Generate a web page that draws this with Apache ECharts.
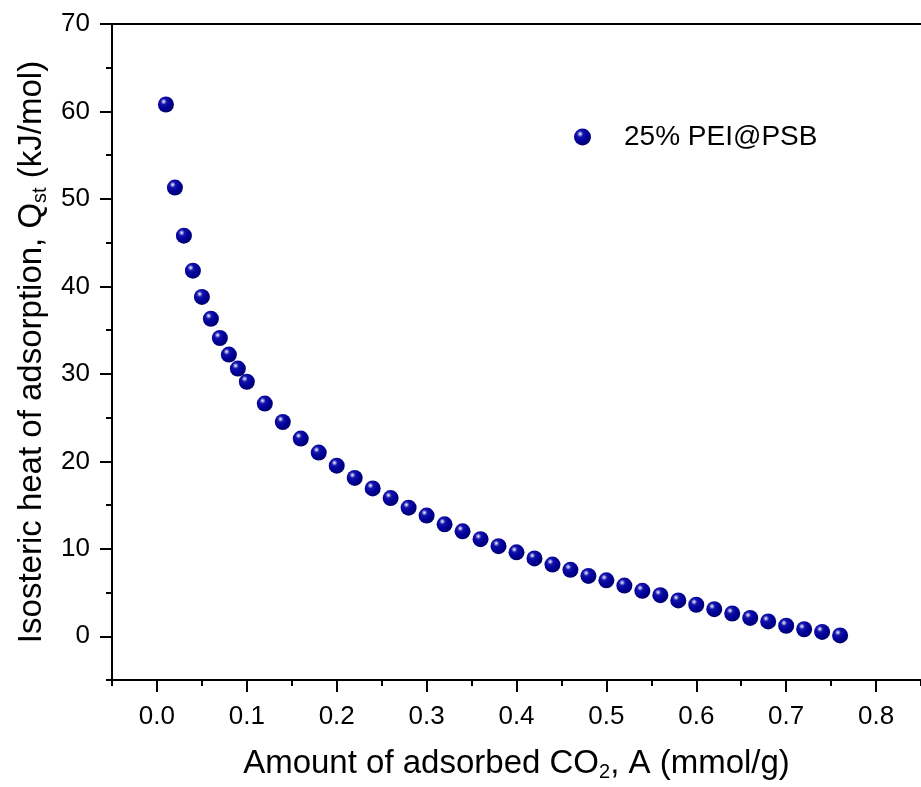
<!DOCTYPE html>
<html><head><meta charset="utf-8">
<script src="https://cdn.jsdelivr.net/npm/echarts@6/dist/echarts.min.js"></script>
<style>html,body{margin:0;padding:0;background:#fff}#c{width:921px;height:787px}</style>
</head><body><div id="c"></div>
<script>
const seriesName = '25% PEI@PSB';
const amountCO2 = [0.01,0.02,0.03,0.04,0.05,0.06,0.07,0.08,0.09,0.10,
  0.12,0.14,0.16,0.18,0.20,0.22,0.24,0.26,0.28,0.30,0.32,0.34,0.36,0.38,0.40,
  0.42,0.44,0.46,0.48,0.50,0.52,0.54,0.56,0.58,0.60,0.62,0.64,0.66,0.68,0.70,
  0.72,0.74,0.76];
const qst = [60.8,51.3,45.8,41.8,38.8,36.3,34.1,32.2,30.6,29.1,
  26.6,24.5,22.6,21.0,19.5,18.1,16.9,15.8,14.7,13.8,12.8,12.0,11.1,10.3,9.6,
  8.9,8.2,7.6,6.9,6.4,5.8,5.2,4.7,4.1,3.6,3.1,2.6,2.1,1.7,1.2,
  0.8,0.5,0.1];
const xMajorTicks = [0,0.1,0.2,0.3,0.4,0.5,0.6,0.7,0.8];
const xMinorTicks = [-0.05,0.05,0.15,0.25,0.35,0.45,0.55,0.65,0.75,0.85];
const yMajorTicks = [0,10,20,30,40,50,60,70];
const yMinorTicks = [-5,5,15,25,35,45,55,65];

const FONT = '"Liberation Sans", Arial, sans-serif';
const chart = echarts.init(document.getElementById('c'), null, {renderer:'canvas'});
const sphere = new echarts.graphic.RadialGradient(0.36, 0.32, 0.72, [
  {offset:0, color:'#ffffff'},
  {offset:0.1, color:'#9c9ce6'},
  {offset:0.26, color:'#1414aa'},
  {offset:0.6, color:'#00009a'},
  {offset:1, color:'#000068'}
]);
const axisLine = {show:true, onZero:false, lineStyle:{color:'#000', width:2}};
const hiddenLine = {show:false, onZero:false};
chart.setOption({
  animation:false,
  backgroundColor:'#fff',
  grid:{left:112, top:24, width:817, height:657, containLabel:false},
  legend:{
    left:569, top:118, icon:'circle', itemWidth:17, itemHeight:17, itemGap:10,
    textStyle:{fontFamily:FONT, fontSize:28, color:'#000', padding:[0,0,0,28]},
    data:[seriesName]
  },
  xAxis:[
    {type:'value', min:-0.05, max:0.85, position:'bottom', axisLine:axisLine,
     splitLine:{show:false},
     axisTick:{show:true, inside:false, length:12, lineStyle:{color:'#000', width:2}, customValues:xMajorTicks},
     axisLabel:{show:true, customValues:xMajorTicks, margin:24, fontFamily:FONT, fontSize:26, color:'#000',
       formatter:v=>v.toFixed(1)},
     name:'{a|Amount of adsorbed CO}{s|2}{a|, A (mmol/g)}', nameLocation:'middle', nameGap:66,
     nameTextStyle:{fontFamily:FONT, color:'#000', rich:{
       a:{fontFamily:FONT, fontSize:33, color:'#000', lineHeight:36},
       s:{fontFamily:FONT, fontSize:20, color:'#000', lineHeight:10, verticalAlign:'bottom'}}}
    },
    {type:'value', min:-0.05, max:0.85, position:'bottom', axisLine:hiddenLine,
     splitLine:{show:false},
     axisTick:{show:true, length:6, lineStyle:{color:'#000', width:2}, customValues:xMinorTicks},
     axisLabel:{show:false}},
    {type:'value', min:-0.05, max:0.85, position:'top', axisLine:axisLine,
     splitLine:{show:false}, axisTick:{show:false}, axisLabel:{show:false}}
  ],
  yAxis:[
    {type:'value', min:-5, max:70, position:'left', axisLine:axisLine,
     splitLine:{show:false},
     axisTick:{show:true, length:12, lineStyle:{color:'#000', width:2}, customValues:yMajorTicks},
     axisLabel:{show:true, customValues:yMajorTicks, margin:22, fontFamily:FONT, fontSize:26, color:'#000'},
     name:'{a|Isosteric heat of adsorption, Q}{s|st}{a| (kJ/mol)}', nameLocation:'middle', nameRotate:90, nameGap:56,
     nameTextStyle:{fontFamily:FONT, color:'#000', rich:{
       a:{fontFamily:FONT, fontSize:33, color:'#000', lineHeight:36},
       s:{fontFamily:FONT, fontSize:20, color:'#000', lineHeight:10, verticalAlign:'bottom'}}}
    },
    {type:'value', min:-5, max:70, position:'left', axisLine:hiddenLine,
     splitLine:{show:false},
     axisTick:{show:true, length:6, lineStyle:{color:'#000', width:2}, customValues:yMinorTicks},
     axisLabel:{show:false}}
  ],
  series:[{
    name:seriesName, type:'scatter', xAxisIndex:0, yAxisIndex:0,
    symbol:'circle', symbolSize:16,
    itemStyle:{color:sphere, opacity:1},
    data:amountCO2.map((x,i)=>[x, qst[i]])
  }]
});
</script></body></html>
